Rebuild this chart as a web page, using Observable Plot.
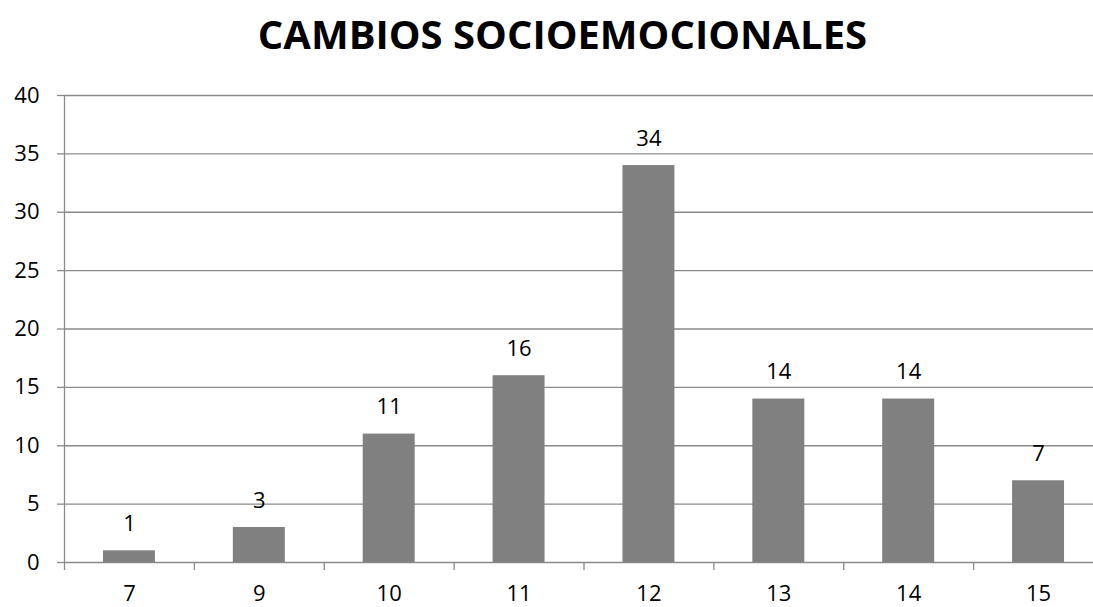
<!DOCTYPE html>
<html>
<head>
<meta charset="utf-8">
<script src="https://cdn.jsdelivr.net/npm/d3@7"></script>
<script src="https://cdn.jsdelivr.net/npm/@observablehq/plot@0.6"></script>
<style>
  html, body { margin: 0; padding: 0; background: #fff; }
  #wrap { position: relative; width: 1093px; height: 607px; overflow: hidden; }
  #title {
    position: absolute; top: 6px; left: 0; width: 1093px;
    text-align: center; font-family: "Open Sans", sans-serif; font-weight: 700;
    font-size: 40px; line-height: 56px; color: #000; padding-left: 32px; box-sizing: border-box;
  }
  #chart { position: absolute; top: 0; left: 0; }
</style>
</head>
<body>
<div id="wrap">
  <div id="chart"></div>
  <div id="title">CAMBIOS SOCIOEMOCIONALES</div>
</div>
<script>
// Ages and how many students reported socio-emotional changes at each age
const categories = ["7", "9", "10", "11", "12", "13", "14", "15"];
const counts = [1, 3, 11, 16, 34, 14, 14, 7];
const yTicks = [0, 5, 10, 15, 20, 25, 30, 35, 40];

const rows = categories.map((c, i) => ({ age: c, index: i, count: counts[i] }));
const gray = "#8a8a8a";

const chart = Plot.plot({
  width: 1093,
  height: 607,
  marginTop: 95,
  marginBottom: 45,
  marginLeft: 64,
  marginRight: 0,
  style: { fontFamily: "'Open Sans', sans-serif", fontSize: "22px", color: "#000", background: "transparent" },
  x: { domain: [0, categories.length], range: [64, 1103] },
  y: { domain: [0, 40] },
  marks: [
    Plot.ruleY(yTicks, { stroke: gray, strokeWidth: 1.3 }),
    Plot.ruleX([0], { y1: 0, y2: 40, stroke: gray, strokeWidth: 1.3 }),
    Plot.axisY({ ticks: yTicks, tickSize: 7, tickPadding: 18, stroke: gray, strokeWidth: 1.3, strokeOpacity: 1, fill: "#000", fontSize: 22, label: null }),
    // category boundary ticks below the baseline
    Plot.axisX({ ticks: d3.range(categories.length + 1), tickSize: 8, tickFormat: () => "", stroke: gray, strokeWidth: 1.3, strokeOpacity: 1, label: null }),
    // category labels centred in each slot
    Plot.axisX({ ticks: d3.range(categories.length).map(i => i + 0.5), tickSize: 0, tickPadding: 23, tickFormat: d => categories[Math.floor(d)], fill: "#000", fontSize: 22, label: null }),
    Plot.rectY(rows, { x1: d => d.index + 0.3, x2: d => d.index + 0.7, y1: 0, y2: "count", fill: "#808080" }),
    Plot.text(rows, { x: d => d.index + 0.5, y: "count", text: d => String(d.count), dy: -27, fontSize: 22, fill: "#000" })
  ]
});
document.getElementById("chart").appendChild(chart);
</script>
</body>
</html>
